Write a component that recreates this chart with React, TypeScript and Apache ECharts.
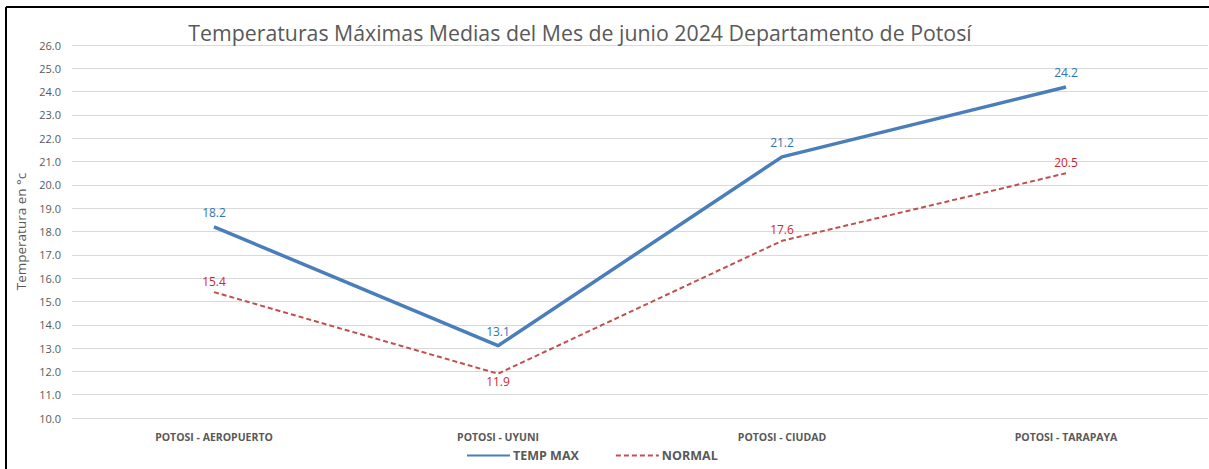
import React, { useEffect, useRef } from "react";
import * as echarts from "echarts";

const categories = ["POTOSI - AEROPUERTO", "POTOSI - UYUNI", "POTOSI - CIUDAD", "POTOSI - TARAPAYA"];
const tempMax = [18.2, 13.1, 21.2, 24.2];
const normal = [15.4, 11.9, 17.6, 20.5];
const normalLabelPos = ["top", "bottom", "top", "top"];
const FONT = "'Open Sans', 'Noto Sans', sans-serif";

export default function App() {
  const ref = useRef<HTMLDivElement>(null);
  useEffect(() => {
    if (!ref.current) return;
    const chart = echarts.init(ref.current, null, { renderer: "svg" });
    chart.setOption({
      animation: false,
      backgroundColor: "#ffffff",
      textStyle: { fontFamily: FONT },
      title: {
        text: "Temperaturas Máximas Medias del Mes de junio 2024 Departamento de Potosí",
        left: 575,
        textAlign: "center",
        top: 17,
        textStyle: { fontSize: 21.3, fontWeight: "normal", color: "#595959", fontFamily: FONT },
      },
      graphic: [
        { type: "line", shape: { x1: 6, y1: 7, x2: 1209, y2: 7 }, style: { stroke: "#000", lineWidth: 2 } },
        { type: "line", shape: { x1: 6, y1: 7, x2: 6, y2: 469 }, style: { stroke: "#000", lineWidth: 2 } },
      ],
      legend: {
        bottom: 2,
        left: 461,
        itemWidth: 43,
        itemHeight: 8,
        itemGap: 36,
        itemStyle: { color: "transparent", borderWidth: 0 },
        textStyle: { fontSize: 12.5, fontWeight: "bold", color: "#595959", fontFamily: FONT, padding: [0, 0, 0, -2] },
        data: ["TEMP MAX", "NORMAL"],
      },
      grid: { left: 72, right: 1, top: 45, bottom: 51 },
      xAxis: {
        type: "category",
        data: categories,
        boundaryGap: true,
        axisLine: { show: false },
        axisTick: { show: false },
        axisLabel: { fontSize: 10.5, fontWeight: "bold", color: "#595959", margin: 13, fontFamily: FONT },
      },
      yAxis: {
        type: "value",
        min: 10,
        max: 26,
        interval: 1,
        name: "Temperatura en °c",
        nameLocation: "middle",
        nameGap: 44,
        nameRotate: 90,
        nameTextStyle: { fontSize: 13.5, color: "#595959", fontFamily: FONT },
        axisLabel: {
          formatter: (v: number) => v.toFixed(1),
          fontSize: 11,
          color: "#595959",
          margin: 11,
        },
        splitLine: { lineStyle: { color: "#d9d9d9", width: 1 } },
      },
      series: [
        {
          name: "TEMP MAX",
          type: "line",
          data: tempMax,
          symbol: "circle",
          symbolSize: 0.1,
          showSymbol: true,
          lineStyle: { color: "#4a7ebb", width: 3.5 },
          itemStyle: { color: "#4a7ebb" },
          label: {
            show: true,
            position: "top",
            distance: 8,
            formatter: (p: any) => Number(p.value).toFixed(1),
            color: "#2e75b6",
            fontSize: 12,
          },
        },
        {
          name: "NORMAL",
          type: "line",
          data: normal.map((v, i) => ({
            value: v,
            label: { position: normalLabelPos[i], distance: normalLabelPos[i] === "bottom" ? 2 : 5 },
          })),
          symbol: "circle",
          symbolSize: 0.1,
          showSymbol: true,
          lineStyle: { color: "#c0504d", width: 2, type: [5, 3] },
          itemStyle: { color: "#c0504d" },
          label: {
            show: true,
            position: "top",
            distance: 5,
            formatter: (p: any) => Number(p.value).toFixed(1),
            color: "#d0262d",
            fontSize: 12,
          },
        },
      ],
    });
    return () => chart.dispose();
  }, []);
  return (
    <div
      ref={ref}
      style={{ position: "absolute", left: 0, top: 0, width: 1209, height: 469 }}
    />
  );
}
